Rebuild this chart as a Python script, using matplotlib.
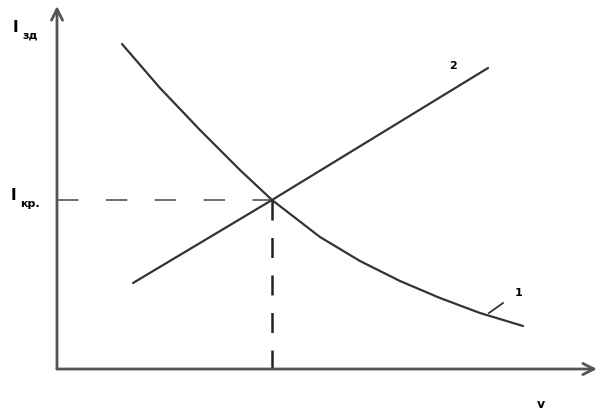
import matplotlib
matplotlib.use("Agg")
import matplotlib.pyplot as plt
import numpy as np

# Curve 1 (decreasing) (x, y in picture units, y downwards)
curve1_x = [122, 160, 200, 240, 272, 320, 360, 400, 440, 480, 523]
curve1_y = [44, 88, 130, 170, 200, 237, 261, 281, 298, 313, 326]
# Line 2 (increasing)
line2_x = [133, 272, 488]
line2_y = [283, 200, 68]
# Operating point
op_x, op_y = 272, 200
# axes origin
x0, y0 = 57, 369

fig = plt.figure(figsize=(5.97, 4.16), dpi=100)
ax = fig.add_axes([0, 0, 1, 1])
ax.set_xlim(0, 597)
ax.set_ylim(416, 0)
ax.axis("off")

col = "#333333"
ax.plot(curve1_x, curve1_y, color=col, lw=1.6, solid_capstyle="round",
        solid_joinstyle="round")
ax.plot(line2_x, line2_y, color=col, lw=1.6, solid_capstyle="round")

# dashed guides
ax.plot([x0, op_x], [op_y, op_y], color="#444444", lw=1.1, dashes=(14, 18))
ax.plot([op_x, op_x], [op_y, y0], color="#222222", lw=1.8, dashes=(8, 7))

# axes with arrows
ax.annotate("", xy=(597, y0), xytext=(x0, y0),
            arrowprops=dict(arrowstyle="->", color="#555555", lw=2,
                            mutation_scale=20, shrinkA=0, shrinkB=0))
ax.annotate("", xy=(x0, 6), xytext=(x0, y0),
            arrowprops=dict(arrowstyle="->", color="#555555", lw=2,
                            mutation_scale=20, shrinkA=0, shrinkB=0))

# leader for label 1
ax.plot([489, 503], [313, 303], color=col, lw=1.3)

fw = "bold"
ax.text(453, 66, "2", fontsize=8, fontweight=fw, ha="center", va="center")
ax.text(519, 293, "1", fontsize=8, fontweight=fw, ha="center", va="center")
ax.text(541, 404, "v", fontsize=9, fontweight=fw, ha="center", va="center")

ax.text(15, 27, "I", fontsize=11, fontweight=fw, ha="center", va="center")
ax.text(22, 36, "зд", fontsize=8, fontweight=fw, ha="left", va="center")
ax.text(13, 196, "I", fontsize=11, fontweight=fw, ha="center", va="center")
ax.text(20, 204, "кр.", fontsize=8, fontweight=fw, ha="left", va="center")

fig.savefig("out.png", dpi=100, facecolor="white")
